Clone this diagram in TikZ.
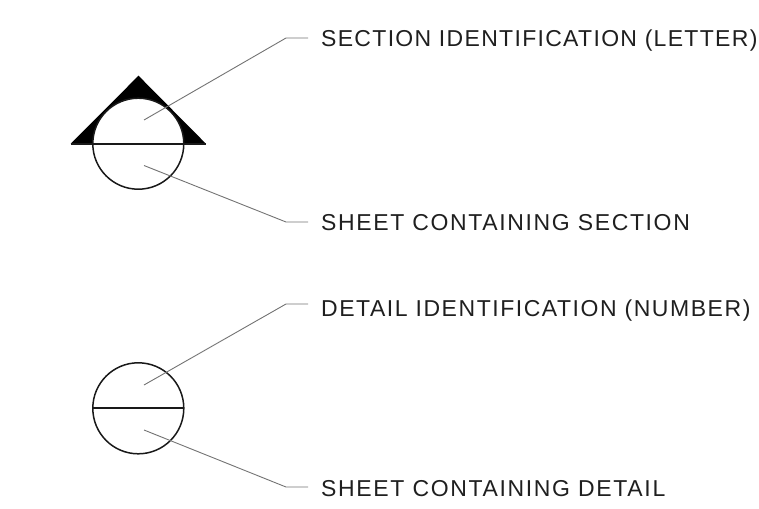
\documentclass[tikz,border=0pt]{standalone}
\usepackage{fontspec}
\setmainfont{Liberation Sans}
\newcommand{\lsp}[1]{\addfontfeature{LetterSpace=#1}}
\tikzset{lbl/.style={anchor=base west,inner ysep=0pt,inner xsep=13pt,font=\fontsize{23}{26}\selectfont,text=black!88},
lead/.style={draw=black!55,line width=0.9pt},
sym/.style={draw=black!90,line width=1.5pt}}
\begin{document}
\begin{tikzpicture}[x=1pt,y=-1pt]
\useasboundingbox (0,0) rectangle (759,508);
\fill[black] (138.5,75.7) -- (206,143.8) -- (70.7,143.8) -- cycle;
\fill[white] (138.3,143.7) circle (45.5);
\draw[sym] (138.3,143.7) circle (45.5);
\draw[sym] (71,143.8) -- (205.5,143.8);
\draw[sym] (138.3,408.3) circle (45.5);
\draw[sym] (92.8,408) -- (183.8,408);
\node[lbl] (a) at (308,46.5) {\lsp{5.7}SECTION IDENTIFICATION (LETTER)};
\node[lbl] (b) at (308,230.5) {\lsp{7.1}SHEET CONTAINING SECTION};
\node[lbl] (c) at (308,316) {\lsp{6.7}DETAIL IDENTIFICATION (NUMBER)};
\node[lbl] (d) at (308,496.5) {\lsp{7.2}SHEET CONTAINING DETAIL};
\coordinate (a1) at (144,120);\coordinate (a2) at (286,38);\coordinate (a3) at (308,38);
\coordinate (b1) at (144,165.5);\coordinate (b2) at (286,222);\coordinate (b3) at (308,222);
\coordinate (c1) at (144,385);\coordinate (c2) at (286,304);\coordinate (c3) at (308,304);
\coordinate (d1) at (144,430);\coordinate (d2) at (286,487);\coordinate (d3) at (308,487);
\draw[lead] (a1) -- (a2) -- (a3);
\draw[lead] (b1) -- (b2) -- (b3);
\draw[lead] (c1) -- (c2) -- (c3);
\draw[lead] (d1) -- (d2) -- (d3);
\end{tikzpicture}
\end{document}
